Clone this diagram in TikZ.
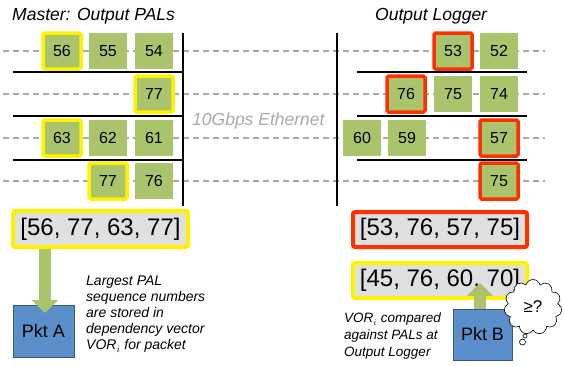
\documentclass[tikz,border=0pt]{standalone}
\usepackage{fontspec}
\setmainfont{Liberation Sans}
\usetikzlibrary{arrows.meta,shapes.symbols}

\definecolor{palgreen}{RGB}{169,196,107}
\definecolor{palred}{RGB}{255,48,0}
\definecolor{vecgray}{RGB}{224,224,224}
\definecolor{pktblue}{RGB}{91,143,203}
\definecolor{pktedge}{RGB}{58,88,125}
\definecolor{wiregray}{RGB}{170,170,170}

\tikzset{
	pal/.style={fill=palgreen, minimum width=38pt, minimum height=36pt, inner sep=0pt, font=\fontsize{16}{19}\selectfont},
	mark yellow/.style={pal, draw=yellow, line width=3.5pt, rounded corners=1.5pt},
	mark red/.style={pal, draw=palred, line width=3.5pt, rounded corners=1.5pt},
	vec/.style={fill=vecgray, line width=4pt, rounded corners=2pt, minimum width=175pt, minimum height=36pt, inner sep=0pt, font=\fontsize{24}{28}\selectfont},
	pkt/.style={fill=pktblue, draw=pktedge, line width=0.6pt, inner sep=0pt, font=\fontsize{18}{21}\selectfont},
	wire/.style={wiregray, line width=1.4pt, dash pattern=on 6pt off 4pt},
	sep/.style={black, line width=1.2pt},
	title/.style={anchor=base west, inner sep=0pt, font=\fontsize{17.5}{20}\selectfont\itshape},
	blockarrow/.style={palgreen, line width=12pt, -{Triangle[width=26pt,length=13pt]}}
}

\begin{document}
\begin{tikzpicture}[x=1pt,y=-1pt]
				\useasboundingbox (0,0) rectangle (564,365);
				% links between the two ends
				\foreach \y in {51,94,138,181}
					\draw[wire] (3,\y) -- (545,\y);
				\draw[sep] (183,33) -- (183,206);
				\draw[sep] (337,33) -- (337,206);
				\foreach \y in {72,116,160} {
					\draw[sep] (13,\y) -- (183,\y);
					\draw[sep] (357,\y) -- (527,\y);
				}
				\node[title] (mtitle) at (12,20) {Master: Output PALs};
				\node[title] (ltitle) at (375,20) {Output Logger};
				\node[title, text=wiregray] (link) at (192,125) {10Gbps Ethernet};
				% master
				\node[mark yellow] (m11) at (62,51) {56};
				\node[pal] (m12) at (108,51) {55};
				\node[pal] (m13) at (154,51) {54};
				\node[mark yellow] (m23) at (154,94) {77};
				\node[mark yellow] (m31) at (62,138) {63};
				\node[pal] (m32) at (108,138) {62};
				\node[pal] (m33) at (154,138) {61};
				\node[mark yellow] (m42) at (108,181) {77};
				\node[pal] (m43) at (154,181) {76};
				% logger
				\node[mark red] (l12) at (453,51) {53};
				\node[pal] (l13) at (499,51) {52};
				\node[mark red] (l21) at (406,94) {76};
				\node[pal] (l22) at (453,94) {75};
				\node[pal] (l23) at (499,94) {74};
				\node[pal] (l30) at (362,138) {60};
				\node[pal] (l31) at (407,138) {59};
				\node[mark red] (l33) at (499,138) {57};
				\node[mark red] (l43) at (499,181) {75};
				% vectors
				\node[vec, draw=yellow] (vecA) at (100.5,229) {[56, 77, 63, 77]};
				\node[vec, draw=palred, minimum width=174pt, minimum height=35pt] (vecB) at (440,229.5) {[53, 76, 57, 75]};
				\node[vec, draw=yellow, minimum width=174pt, minimum height=35pt] (vecC) at (440,280.5) {[45, 76, 60, 70]};
				% packets
				\node[pkt, minimum width=61pt, minimum height=52pt] (pktA) at (43.5,331) {Pkt A};
				\node[pkt, minimum width=59pt, minimum height=51pt] (pktB) at (482.5,334.5) {Pkt B};
				\coordinate (tipA) at (45,313);
				\coordinate (cmpB) at (480,283);
				\draw[blockarrow] (vecA.south -| tipA) -- (tipA);
				\draw[blockarrow] (pktB.north -| cmpB) -- (cmpB);
				\node[cloud, cloud puffs=11, draw, fill=white, line width=0.6pt, minimum width=58pt, minimum height=55pt, inner sep=0pt, font=\fontsize{17}{20}\selectfont] (think) at (533,307) {≥?};
				\draw[line width=0.6pt, fill=white] (525,336) circle (2pt);
				\draw[line width=0.6pt, fill=white] (522.5,342) circle (3pt);
				% notes
				\node[anchor=north west, inner sep=0pt, align=left, font=\fontsize{14}{16}\selectfont\itshape] (noteA) at (86,276) {Largest PAL\\sequence numbers\\are stored in\\dependency vector\\VOR$_i$ for packet};
				\node[anchor=north west, inner sep=0pt, align=left, font=\fontsize{13.5}{17}\selectfont\itshape] (noteB) at (344,313) {VOR$_i$ compared\\against PALs at\\Output Logger};
			\end{tikzpicture}
\end{document}
